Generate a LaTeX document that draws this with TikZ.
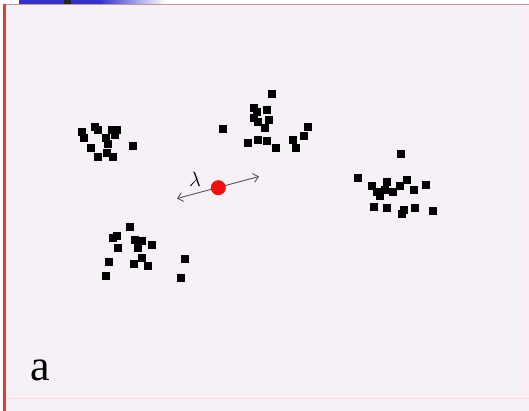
\documentclass[tikz,border=0pt]{standalone}
\usepackage{fontspec}
\usepackage{tikz}
\usetikzlibrary{arrows.meta}
\newfontfamily\labelfont{Liberation Serif}
\definecolor{bgpaper}{HTML}{F6F1F6}
\definecolor{barblue}{HTML}{3333CC}
\definecolor{frameleft}{HTML}{E03A3A}
\definecolor{frametop}{HTML}{C89898}
\definecolor{arrowgray}{HTML}{555555}
\definecolor{dotred}{HTML}{EE1111}
\tikzset{
  sq/.style={fill=black, minimum size=7.8pt, inner sep=0pt, outer sep=0pt, draw=none, rectangle},
  reddot/.style={circle, fill=dotred, minimum size=15pt, inner sep=0pt, draw=none},
  spread/.style={arrowgray, line width=0.9pt, {Straight Barb[length=5pt,width=9pt]}-{Straight Barb[length=5pt,width=9pt]}},
  lbl/.style={inner sep=0pt, font=\labelfont\fontsize{44}{44}\selectfont}
}
\begin{document}
\begin{tikzpicture}[x=1pt,y=-1pt]
\useasboundingbox (0,0) rectangle (529,411);
\fill[white] (0,0) rectangle (529,411);
\fill[bgpaper] (4,4) rectangle (529,411);
% top bar
\fill[barblue] (19,0) rectangle (100,4);
\shade[left color=barblue, right color=white] (100,0) rectangle (166,4);
\fill[black!85] (64,0) rectangle (71,4);
% frame lines
\draw[frametop, line width=1.2pt] (3,4.5) -- (529,4.5);
\draw[frameleft, line width=2.6pt] (4.3,4) -- (4.3,411);
\draw[red!15, line width=1pt] (6,398) -- (529,398);
\draw[red!8, line width=1pt] (526,6) -- (526,398);
% cluster 1
\foreach \x/\y [count=\i] in {81.7/132.3, 84/137.7, 95/126.7, 98.3/130, 111.7/130, 116.7/130, 106/137.7, 115/135, 108.3/144.3, 90.7/147.7, 98.3/156.7, 106.7/153.3, 113.3/156.7, 133.3/145.7}
  \node[sq] (a\i) at (\x,\y) {};
% cluster 2
\foreach \x/\y [count=\i] in {272.3/94.3, 254.3/108.3, 256.7/111.7, 266.7/110, 254.3/118.3, 257.7/121.7, 269/120, 265/128.3, 223.3/129.3, 248.3/143.3, 257.7/140, 266.7/141, 275.7/148.3, 293.3/140, 295.7/148.3, 304.3/135.7, 307.7/126.7}
  \node[sq] (b\i) at (\x,\y) {};
% cluster 3
\foreach \x/\y [count=\i] in {400.7/154, 358.3/178.3, 371.7/185.7, 387.3/182.3, 407.3/179.7, 400/185.7, 376.7/191.7, 380/195.7, 385/190, 392.7/191.7, 414/190, 425.7/185, 374/206.7, 386.7/207.7, 404/210, 401.7/214.3, 415/208.3, 432.7/211}
  \node[sq] (c\i) at (\x,\y) {};
% cluster 4
\foreach \x/\y [count=\i] in {130/226.7, 113.3/238.3, 116.7/235.7, 117.7/247.7, 135/240, 141.7/241, 138.3/248.3, 152.3/245, 141.7/258.3, 134.3/264.3, 147.7/266, 109/261.7, 105.7/276, 185/259.3, 180.7/277.7}
  \node[sq] (d\i) at (\x,\y) {};
% arrow and dot
\coordinate (left) at (177,198.5);
\coordinate (right) at (259,176.5);
\draw[spread] (left) -- (right);
\node[reddot] (dot) at (218.3,187.7) {};
\node[inner sep=0pt, font=\fontsize{21}{21}\selectfont] (lam) at (195,179.5) {$\lambda$};
% label
\node[lbl, anchor=base west] (la) at (30,380) {a};
\end{tikzpicture}
\end{document}
